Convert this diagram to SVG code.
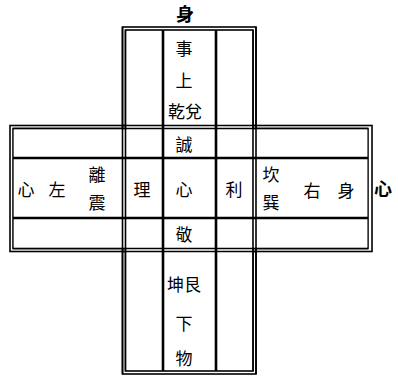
<svg xmlns="http://www.w3.org/2000/svg" width="398" height="378" viewBox="0 0 398 378">
<style>
.l{stroke:#000;stroke-width:1.6;fill:none}
.t{stroke:#000;stroke-width:2.6;fill:none}
text{font-family:"Noto Sans CJK TC","Noto Sans CJK SC",sans-serif;font-size:17px;fill:#000;text-anchor:middle;dominant-baseline:central}
.b{font-weight:bold;font-size:18px}
</style>
<rect width="398" height="378" fill="#fff"/>
<g id="connectors">
<rect class="l" x="122.5" y="27" width="133.5" height="347"/>
<rect class="l" x="125.5" y="30" width="127.5" height="341"/>
<rect class="l" x="10" y="125.5" width="362" height="126"/>
<rect class="l" x="13" y="128.5" width="355" height="120"/>
<rect x="126.3" y="31" width="126" height="339" fill="#fff"/>
<rect x="13.8" y="129.3" width="353.5" height="118.5" fill="#fff"/>
<line class="l" x1="13" y1="128.5" x2="368" y2="128.5"/>
<line class="t" x1="13" y1="158" x2="368" y2="158"/>
<line class="t" x1="13" y1="218" x2="368" y2="218"/>
<line class="l" x1="13" y1="248.5" x2="368" y2="248.5"/>
<line class="l" x1="122.5" y1="125.5" x2="256" y2="125.5"/>
<line class="l" x1="122.5" y1="251.5" x2="256" y2="251.5"/>
<line class="l" x1="125.5" y1="30" x2="125.5" y2="371"/>
<line class="l" x1="253" y1="30" x2="253" y2="371"/>
<line class="l" x1="122.5" y1="27" x2="122.5" y2="374"/>
<line class="l" x1="256" y1="27" x2="256" y2="374"/>
<line class="t" x1="163" y1="30" x2="163" y2="371"/>
<line class="t" x1="216" y1="30" x2="216" y2="371"/>
</g>
<g id="top-label"><text class="b" x="185" y="13">身</text></g>
<g id="upper-cell">
<text x="184" y="47">事</text>
<text x="184" y="79">上</text>
<text x="185" y="110">乾兌</text>
</g>
<g id="cheng"><text x="184" y="143">誠</text></g>
<g id="left-cell">
<text x="26" y="188">心</text>
<text x="57" y="188">左</text>
<text x="97" y="173">離</text>
<text x="97" y="201">震</text>
</g>
<g id="li"><text x="142" y="188">理</text></g>
<g id="center"><text x="184" y="188">心</text></g>
<g id="li2"><text x="234" y="188">利</text></g>
<g id="right-cell">
<text x="271" y="173">坎</text>
<text x="271" y="201">巽</text>
<text x="312" y="189">右</text>
<text x="346" y="189">身</text>
</g>
<g id="right-label"><text class="b" x="383" y="188">心</text></g>
<g id="jing"><text x="184" y="233">敬</text></g>
<g id="lower-cell">
<text x="184" y="283">坤艮</text>
<text x="184" y="322">下</text>
<text x="184" y="357">物</text>
</g>
</svg>
